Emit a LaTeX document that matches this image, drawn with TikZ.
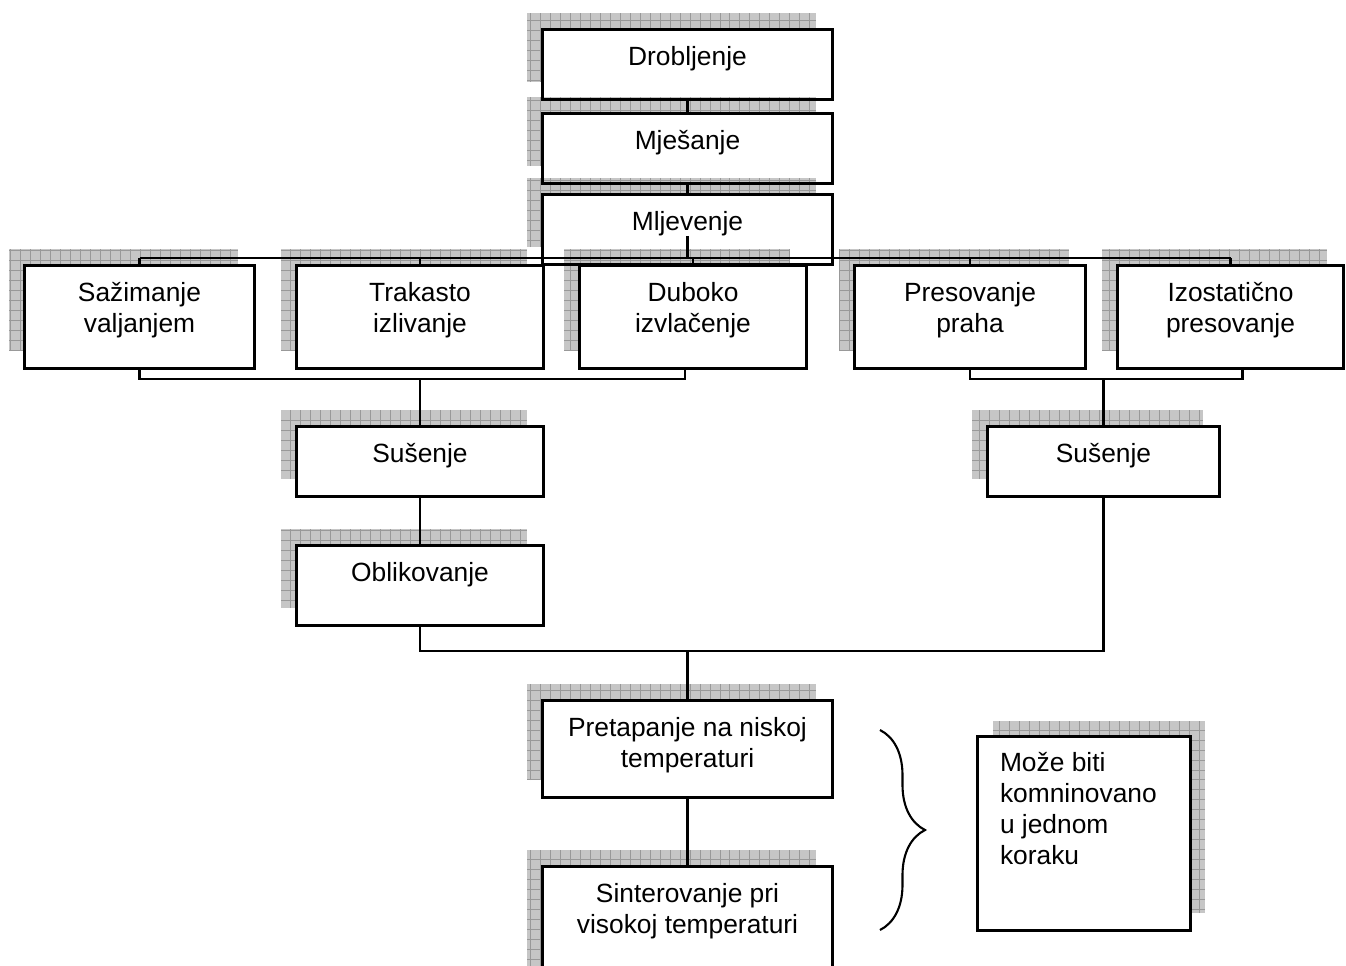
\documentclass[tikz,border=0pt]{standalone}
\usepackage{fontspec}
\setmainfont{Liberation Sans}
\usetikzlibrary{positioning, decorations.pathreplacing}

\begin{document}
\begin{tikzpicture}[x=0.02cm, y=-0.02cm,
    stepbox/.style={fill=white, draw=none, inner sep=0pt},
    frame/.style={draw=black, line width=1.5pt},
    steptext/.style={font=\fontsize{15}{17.6}\selectfont, align=center, inner sep=0pt},
    shade/.style={fill=gray!45, draw=none,
        path picture={\draw[gray!80, line width=0.4pt, step=0.2cm]
            (path picture bounding box.south west) grid (path picture bounding box.north east);}},
    link/.style={draw=black, line width=1.2pt}]

% Page frame - matching the reference image
\useasboundingbox (0,0) rectangle (1346,965);
\clip (0,0) rectangle (1346,965);

% Process boxes with their shadows (shadow up and to the left)
\foreach \n/\xa/\ya/\xb/\yb/\t in {
    drob/543/30/832/99/{Drobljenje},
    mjes/543/114/832/183/{Mješanje},
    mljev/543/195/832/264/{Mljevenje},
    sazim/25/266/254/368/{Sažimanje\\valjanjem},
    trak/297/266/543/368/{Trakasto\\izlivanje},
    dub/580/266/806/368/{Duboko\\izvlačenje},
    pres/855/266/1085/368/{Presovanje\\praha},
    izost/1118/266/1343/368/{Izostatično\\presovanje},
    susa/297/427/543/496/{Sušenje},
    susb/988/427/1219/496/{Sušenje},
    oblik/297/546/543/625/{Oblikovanje},
    pret/543/701/832/797/{Pretapanje na niskoj\\temperaturi},
    sint/543/867/832/990/{Sinterovanje pri\\visokoj temperaturi}} {
    \path[shade] (\xa-16,\ya-17) rectangle (\xb-16,\yb-17);
    \node[stepbox, minimum width={(\xb-\xa)*0.02cm}, minimum height={(\yb-\ya)*0.02cm}]
        (\n) at ({(\xa+\xb)/2},{(\ya+\yb)/2}) {};
    \node[steptext, below=0.32cm of \n.north] (\n-t) {\t};
}

% Note box on the right (shadow up and to the right)
\path[shade] (993,721) rectangle (1205,913);
\node[stepbox, minimum width=4.24cm, minimum height=3.86cm] (moze) at (1084,833.5) {};
\node[steptext, align=left, anchor=north west] (moze-t) at ([xshift=0.44cm, yshift=-0.31cm]moze.north west)
    {Može biti\\komninovano\\u jednom\\koraku};

% Box outlines on top of the shadows
\foreach \n in {drob, mjes, mljev, sazim, trak, dub, pres, izost, susa, susb, oblik, pret, sint, moze} {
    \draw[frame] (\n.north west) rectangle (\n.south east);
}

% Top chain
\draw[link] (drob.south) -- (mjes.north);
\draw[link] (mjes.south) -- (mljev.north);

% Branch bus to the five forming methods
\coordinate (top-bus) at (686,258);
\draw[link] (mljev-t.south) -- (mljev-t.south |- top-bus);
\draw[link] (sazim.north |- top-bus) -- (izost.north |- top-bus);
\foreach \n in {sazim, trak, dub, pres, izost} {
    \draw[link] (\n.north |- top-bus) -- (\n.north);
}

% Left group into drying
\coordinate (left-bus) at (420,379);
\draw[link] (sazim.south) |- (left-bus) -| ([xshift=-0.16cm]dub.south);
\draw[link] (susa.north |- left-bus) -- (susa.north);
\draw[link] (susa.south) -- (oblik.north);

% Right group into drying
\coordinate (right-bus) at (1103,379);
\draw[link] (pres.south) |- (right-bus) -| ([xshift=0.24cm]izost.south);
\draw[link] (susb.north |- right-bus) -- (susb.north);

% Join into firing steps
\coordinate (join) at (686,651);
\draw[link] (oblik.south) |- (join) -| (susb.south);
\draw[link] (pret.north |- join) -- (pret.north);
\draw[link] (pret.south) -- (sint.north);

% Brace for the two firing steps
\draw[line width=1.2pt, decorate, decoration={brace, amplitude=0.9cm}] (880,730) -- (880,930);

\end{tikzpicture}
\end{document}
